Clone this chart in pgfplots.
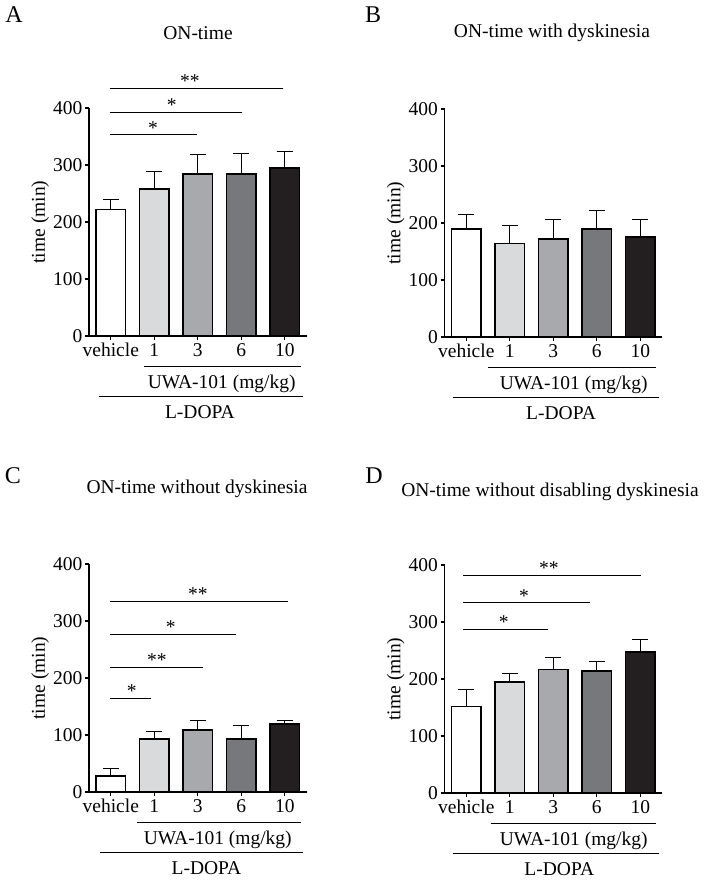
\documentclass[border=0pt]{standalone}
\usepackage{fontspec}
\setmainfont{Liberation Serif}
\usepackage{pgfplots}
\pgfplotsset{compat=1.18}
\definecolor{c1}{HTML}{D9DADC}
\definecolor{c3}{HTML}{A8A9AD}
\definecolor{c6}{HTML}{77787C}
\definecolor{c10}{HTML}{231F20}
\newcommand{\myfs}{\fontsize{19.5}{21}\selectfont}
\pgfplotsset{panel/.style={
  scale only axis, width=217.5pt, height=228pt,
  xmin=-0.5, xmax=4.5, ymin=0, ymax=400,
  axis lines*=left, clip=false,
  axis line style={line width=1.6pt},
  ytick={0,100,200,300,400}, xtick={0,1,2,3,4}, xticklabels={vehicle,1,3,6,10},
  tick align=outside, major tick length=4pt, tick style={line width=1.2pt, black},
  /pgf/number format/assume math mode=true,
  tick label style={font=\myfs},
  yticklabel style={inner sep=2.5pt},
  xticklabel style={inner sep=3pt},
  ylabel={time (min)},
  ylabel style={at={(axis description cs:-0.225,0.5)}, anchor=center, font=\myfs},
  anchor=south west,
},
gbar/.style={ybar, bar width=0.67, bar shift=0pt, draw=black, line width=1.6pt, fill=#1,
  error bars/.cd, y dir=plus, y explicit,
  error bar style={line width=1pt, black},
  error mark options={rotate=90, mark size=8pt, line width=1pt, black}},
sig/.style={black, line width=0.9pt, forget plot, no marks}
}
\newcommand{\mygroups}[4]{%
  \draw[line width=0.9pt] ([yshift=-30pt]axis cs:#1,0) -- ([yshift=-30pt]axis cs:4.37,0);
  \node[font=\myfs] at ([yshift=-48pt]axis cs:#2,0) {UWA-101 (mg/kg)};
  \draw[line width=0.9pt] ([yshift=-60pt]axis cs:#3,0) -- ([yshift=-60pt]axis cs:4.42,0);
  \node[font=\myfs] at ([yshift=-76pt]axis cs:#4,0) {L-DOPA};
}
\begin{document}
\begin{tikzpicture}
\useasboundingbox (0,0) rectangle (705pt,-880pt);
% Panel letters and titles
\node[font=\fontsize{24}{26}\selectfont] at (14pt,-15pt) {A};
\node[font=\fontsize{24}{26}\selectfont] at (373pt,-15pt) {B};
\node[font=\fontsize{24}{26}\selectfont] at (13pt,-476pt) {C};
\node[font=\fontsize{24}{26}\selectfont] at (374pt,-476pt) {D};
\node[font=\myfs] at (198pt,-33pt) {ON-time};
\node[font=\myfs] at (552pt,-33pt) {ON-time with dyskinesia};
\node[font=\myfs] at (197pt,-489pt) {ON-time without dyskinesia};
\node[font=\myfs] at (550pt,-492pt) {ON-time without disabling dyskinesia};

% Panel A
\begin{axis}[panel, at={(89pt,-336pt)}]
\addplot[gbar=white] coordinates {(0,222) +- (0,17)};
\addplot[gbar=c1] coordinates {(1,258) +- (0,30)};
\addplot[gbar=c3] coordinates {(2,284) +- (0,34)};
\addplot[gbar=c6] coordinates {(3,284) +- (0,37)};
\addplot[gbar=c10] coordinates {(4,295) +- (0,28)};
\addplot[sig] coordinates {(-0.02,435) (3.95,435)};
\addplot[sig] coordinates {(-0.02,393) (3.01,393)};
\addplot[sig] coordinates {(-0.02,353) (1.98,353)};
\node[font=\myfs, anchor=base] at (axis cs:1.82,436) {**};
\node[font=\myfs, anchor=base] at (axis cs:1.40,394) {*};
\node[font=\myfs, anchor=base] at (axis cs:0.97,354) {*};
\mygroups{0.76}{2.55}{-0.28}{2.05}
\end{axis}

% Panel B
\begin{axis}[panel, at={(444.5pt,-337pt)}]
\addplot[gbar=white] coordinates {(0,190) +- (0,25)};
\addplot[gbar=c1] coordinates {(1,164) +- (0,32)};
\addplot[gbar=c3] coordinates {(2,172) +- (0,34)};
\addplot[gbar=c6] coordinates {(3,189) +- (0,33)};
\addplot[gbar=c10] coordinates {(4,175) +- (0,31)};
\mygroups{0.51}{2.47}{-0.3}{2.18}
\end{axis}

% Panel C
\begin{axis}[panel, at={(89pt,-792pt)}]
\addplot[gbar=white] coordinates {(0,28) +- (0,14)};
\addplot[gbar=c1] coordinates {(1,93) +- (0,14)};
\addplot[gbar=c3] coordinates {(2,109) +- (0,17)};
\addplot[gbar=c6] coordinates {(3,93) +- (0,23)};
\addplot[gbar=c10] coordinates {(4,119) +- (0,7)};
\addplot[sig] coordinates {(-0.02,335) (4.07,335)};
\addplot[sig] coordinates {(-0.02,277) (2.87,277)};
\addplot[sig] coordinates {(-0.02,219) (2.11,219)};
\addplot[sig] coordinates {(-0.02,165) (0.92,165)};
\node[font=\myfs, anchor=base] at (axis cs:2.0,336) {**};
\node[font=\myfs, anchor=base] at (axis cs:1.38,278) {*};
\node[font=\myfs, anchor=base] at (axis cs:1.06,220) {**};
\node[font=\myfs, anchor=base] at (axis cs:0.48,166) {*};
\mygroups{0.6}{2.46}{-0.25}{2.2}
\end{axis}

% Panel D
\begin{axis}[panel, at={(444.5pt,-793pt)}]
\addplot[gbar=white] coordinates {(0,152) +- (0,30)};
\addplot[gbar=c1] coordinates {(1,195) +- (0,15)};
\addplot[gbar=c3] coordinates {(2,217) +- (0,21)};
\addplot[gbar=c6] coordinates {(3,214) +- (0,16)};
\addplot[gbar=c10] coordinates {(4,247) +- (0,23)};
\addplot[sig] coordinates {(-0.07,382) (4.02,382)};
\addplot[sig] coordinates {(-0.07,334) (2.84,334)};
\addplot[sig] coordinates {(-0.07,287) (1.88,287)};
\node[font=\myfs, anchor=base] at (axis cs:1.9,383) {**};
\node[font=\myfs, anchor=base] at (axis cs:1.33,335) {*};
\node[font=\myfs, anchor=base] at (axis cs:0.86,288) {*};
\mygroups{0.56}{2.47}{-0.3}{2.14}
\end{axis}
\end{tikzpicture}
\end{document}
